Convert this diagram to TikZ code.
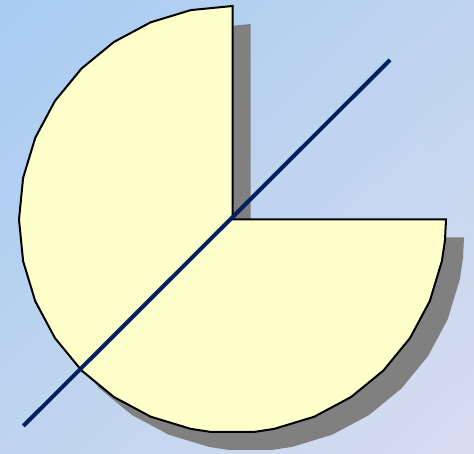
\documentclass[tikz,border=0pt]{standalone}
\usetikzlibrary{shadings}
\definecolor{bgA}{HTML}{A8CCF2}
\definecolor{bgB}{HTML}{BED4EF}
\definecolor{bgC}{HTML}{D8DCF0}
\definecolor{piefill}{HTML}{FFFFCC}
\definecolor{shadowgray}{HTML}{808080}
\definecolor{navy}{RGB}{0,32,96}
\tikzset{
  pieshape/.style={fill=piefill, draw=black, line width=2pt, line join=miter},
  pieshadow/.style={fill=shadowgray},
  axisline/.style={draw=navy, line width=4pt}
}
\newcommand{\piepath}{(0,0) \foreach \a in {90,101.25,...,258.75,264,276,281.25,292.5,303.75,315,326.25,337.5,348.75,354.5,360}{ -- (\a:213.5) } -- cycle}
\begin{document}
\begin{tikzpicture}[x=1pt,y=1pt]
\useasboundingbox (0,0) rectangle (474,454);
\shade[upper left=bgA, upper right=bgB, lower left=bgB, lower right=bgC] (0,0) rectangle (474,454);
% shadow
\begin{scope}[shift={(250.5,216.5)}]
  \path[pieshadow] \piepath;
\end{scope}
% pie
\begin{scope}[shift={(232.5,234.5)}]
  \path[pieshape] \piepath;
\end{scope}
\coordinate (lineA) at (23.3,28);
\coordinate (lineB) at (390,394);
\draw[axisline] (lineA) -- (lineB);
\end{tikzpicture}
\end{document}
